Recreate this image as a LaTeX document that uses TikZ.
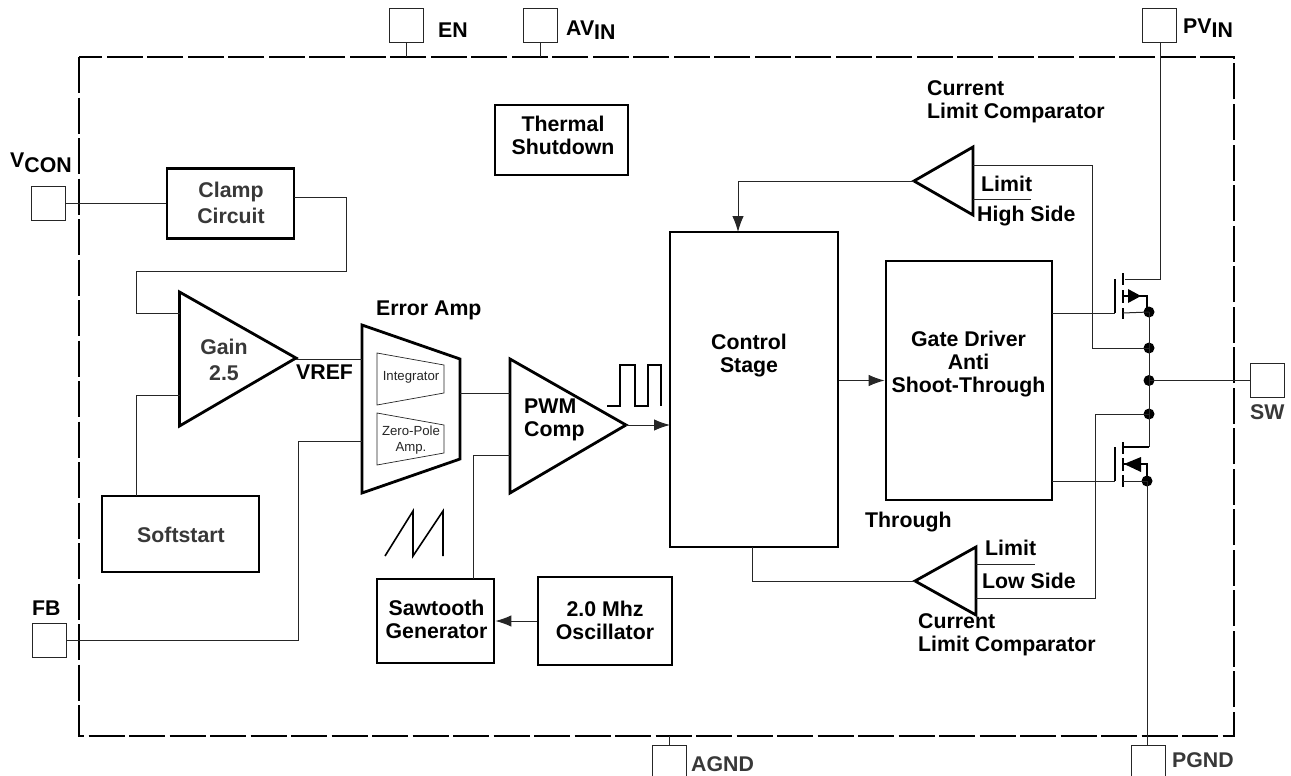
\documentclass[tikz,border=0pt]{standalone}
\usepackage{fontspec}
\setmainfont{Liberation Sans}
\usetikzlibrary{arrows,arrows.meta,positioning,calc}
\tikzstyle{wire}=[line width=1pt,draw=black!85]
\tikzstyle{arr}=[wire,-{Latex[length=16pt,width=11.5pt]}]
\tikzstyle{block}=[rectangle,line width=2.8pt,draw=black,fill=white,inner sep=0pt]
\tikzstyle{pin}=[rectangle,line width=1pt,draw=black!85,fill=white,minimum width=34pt,minimum height=34pt,inner sep=0pt]
\tikzstyle{amp}=[line width=2.8pt,line join=miter,draw=black,fill=white]
\tikzstyle{subamp}=[line width=0.7pt,draw=black!85,fill=white]
\tikzstyle{lbl}=[align=left,inner sep=0pt,font=\fontsize{21.3}{23}\selectfont\bfseries]
\tikzstyle{clbl}=[lbl,align=center]
\tikzstyle{glbl}=[lbl,align=center,text=black!78,font=\fontsize{21.3}{26}\selectfont\bfseries]
\tikzstyle{small}=[align=center,inner sep=0pt,text=black!85,font=\fontsize{13.2}{15.5}\selectfont]
\tikzstyle{dot}=[circle,fill=black,inner sep=0pt,minimum size=11pt]
\newcommand{\lowtxt}[1]{\raisebox{-4.5pt}{#1}}
\begin{document}
\begin{tikzpicture}[x=1pt,y=-1pt]
            \useasboundingbox (0,0) rectangle (1291,776);

            % package outline
            \draw[line width=2.6pt,dash pattern=on 36pt off 4.5pt] (79,57) rectangle (1234,736);

            % pins
            \node[pin] (en) at (406.5,26) {};
            \node[pin] (avin) at (540.5,26) {};
            \node[pin] (pvin) at (1159.5,26) {};
            \node[pin] (vcon) at (48.5,203.5) {};
            \node[pin] (fb) at (49,640) {};
            \node[pin] (sw) at (1267,380.5) {};
            \node[pin] (agnd) at (669,762) {};
            \node[pin] (pgnd) at (1148.5,762) {};

            \node[lbl,anchor=west] (enl) at (438,30) {EN};
            \node[lbl,anchor=west] (avinl) at (566,30) {AV\lowtxt{IN}};
            \node[lbl,anchor=west] (pvinl) at (1183,28) {PV\lowtxt{IN}};
            \node[lbl,anchor=west] (vconl) at (10,163) {V\lowtxt{CON}};
            \node[lbl,anchor=west] (fbl) at (32,608) {FB};
            \node[glbl,anchor=west] (swl) at (1250,412) {SW};
            \node[glbl,anchor=west] (agndl) at (691,764) {AGND};
            \node[glbl,anchor=west] (pgndl) at (1172,760) {PGND};

            % blocks
            \node[block,minimum width=133pt,minimum height=70pt] (thermal) at (561.5,140) {};
            \node[clbl] (thermalt) at (563,135) {Thermal\\Shutdown};
            \node[block,minimum width=127pt,minimum height=70pt] (clamp) at (230.5,203.5) {};
            \node[glbl] (clampt) at (231,203) {Clamp\\Circuit};
            \node[block,minimum width=157pt,minimum height=76pt] (soft) at (180.5,534) {};
            \node[glbl] (softt) at (181,535) {Softstart};
            \node[block,minimum width=117pt,minimum height=84pt] (saw) at (435.5,621) {};
            \node[clbl] (sawt) at (436.5,619.5) {Sawtooth\\Generator};
            \node[block,minimum width=134pt,minimum height=88pt] (osc) at (605,621) {};
            \node[clbl] (osct) at (605,620.5) {2.0 Mhz\\Oscillator};
            \node[block,minimum width=168pt,minimum height=315pt] (ctrl) at (754,389.5) {};
            \node[clbl] (ctrlt) at (749,355.5) {Control\\Stage};
            \node[block,minimum width=166pt,minimum height=239pt] (gate) at (969,380.5) {};
            \node[clbl] (gatet) at (968.5,364.5) {Gate Driver\\Anti\\Shoot-Through};

            % gain, error amp, comparator
            \draw[amp] (179.5,292) -- (296,358) -- (179.5,426) -- cycle;
            \node[glbl] (gain) at (224,360) {Gain\\2.5};
            \draw[amp] (362,325) -- (460,359) -- (460,459) -- (362,493) -- cycle;
            \draw[subamp] (377,353) -- (444,365) -- (444,393) -- (377,405) -- cycle;
            \draw[subamp] (377,413) -- (444,425) -- (444,453) -- (377,465) -- cycle;
            \node[small] (integ) at (411,377) {Integrator};
            \node[small] (zero) at (411,440) {Zero-Pole\\Amp.};
            \node[lbl,anchor=west] (errl) at (376,310) {Error Amp};
            \node[lbl,anchor=west] (vrefl) at (296,372) {VREF};
            \draw[amp] (510,359) -- (626,425) -- (510,493) -- cycle;
            \node[lbl,anchor=west] (pwm) at (524,420) {PWM\\Comp};

            % current limit comparators
            \draw[amp] (914,181) -- (973,147) -- (973,215) -- cycle;
            \draw[amp] (915,581) -- (976,547) -- (976,615) -- cycle;
            \node[lbl,anchor=west] (cl1) at (927,102) {Current\\Limit Comparator};
            \node[lbl,anchor=west] (limh) at (981,184) {Limit};
            \node[lbl,anchor=west] (high) at (977,216) {High Side};
            \node[lbl,anchor=west] (thr) at (865,522) {Through};
            \node[lbl,anchor=west] (liml) at (985,548) {Limit};
            \node[lbl,anchor=west] (low) at (982,581) {Low Side};
            \node[lbl,anchor=west] (cl2) at (918,635) {Current\\Limit Comparator};

            % pulse and sawtooth signs
            \draw[line width=1.6pt] (607,406) -- (620,406) -- (620,365) -- (635,365) -- (635,406) -- (648,406) -- (648,365) -- (661,365) -- (661,406);
            \draw[line width=1.6pt] (385,556) -- (413,511) -- (413,556) -- (443,511) -- (443,556);

            % power stage
            \coordinate (jd) at (1149,312);
            \coordinate (jh) at (1149,348);
            \coordinate (jm) at (1149,380.5);
            \coordinate (jl) at (1149,414);
            \coordinate (js) at (1147,481);
            \node[dot] (d1) at (jd) {};
            \node[dot] (d2) at (jh) {};
            \node[dot] (d3) at (jm) {};
            \node[dot] (d4) at (jl) {};
            \node[dot] (d5) at (js) {};
            \coordinate (hg) at (1115,313);
            \coordinate (lg) at (1115,481);
            \draw[line width=2.4pt] (1115,279) -- (hg);
            \draw[line width=2.4pt] (1115,447) -- (lg);
            \draw[line width=2.4pt] (1123,273) -- (1123,285) (1123,290) -- (1123,303) (1123,308) -- (1123,319);
            \draw[line width=2.4pt] (1123,442) -- (1123,454) (1123,458) -- (1123,471) (1123,475) -- (1123,487);
            \draw[line width=2.4pt] (1123,447) -- (1149,447);
            \fill (1128,289) -- (1141,296) -- (1128,303) -- cycle;
            \fill (1124,464) -- (1141,457) -- (1141,472) -- cycle;
            \draw[line width=1.6pt] (1123,296) -- (1147,296) -- (1147,312);
            \draw[line width=1.6pt] (1123,464) -- (1147,464) -- (js);
            \draw[wire] (1123,313) -- (jd);
            \draw[wire] (1123,481) -- (js);
            \draw[wire] (jd) -- (jh) -- (jm) -- (jl) -- (1149,447);

            % connections
            \coordinate (a1) at (294,197);
            \coordinate (a2) at (346,271);
            \coordinate (a3) at (179.5,313);
            \coordinate (a4) at (136,496);
            \coordinate (a5) at (179.5,395);
            \coordinate (a6) at (362,441);
            \coordinate (a7) at (298,640);
            \draw[wire] (vcon) -- (clamp);
            \draw[wire] (a1) -| (a2) -| (136,313) -- (a3);
            \draw[wire] (a4) |- (a5);
            \draw[wire] (fb) -- (a7) |- (a6);
            \coordinate (gtip) at (296,359);
            \coordinate (ein) at (362,359);
            \draw[wire] (gtip) -- (ein);
            \coordinate (eout) at (460,393);
            \coordinate (pin1) at (510,393);
            \coordinate (pin2) at (510,455);
            \coordinate (sawin) at (473,579);
            \draw[wire] (eout) -- (pin1);
            \draw[wire] (pin2) -| (sawin);
            \coordinate (ptip) at (626,425);
            \coordinate (cin) at (670,425);
            \draw[arr] (ptip) -- (cin);
            \draw[arr] (osc) -- (saw);
            \draw[arr] (ctrl.east |- gate) -- (gate);

            \coordinate (t1) at (914,181);
            \coordinate (t2) at (738,232);
            \draw[arr] (t1) -| (t2);
            \coordinate (t3) at (973,165);
            \coordinate (t4) at (1092,348);
            \draw[wire] (t3) -| (t4) -- (jh);
            \coordinate (t5) at (973,199);
            \coordinate (t6) at (1031,199);
            \draw[wire] (t5) -- (t6);
            \coordinate (b1) at (915,581);
            \coordinate (b2) at (752,547);
            \draw[wire] (b1) -| (b2);
            \coordinate (b3) at (976,564);
            \coordinate (b4) at (1035,564);
            \draw[wire] (b3) -- (b4);
            \coordinate (b5) at (976,598);
            \coordinate (b6) at (1095,414);
            \draw[wire] (b5) -| (b6) -- (jl);

            \coordinate (g1) at (1052,313);
            \coordinate (g2) at (1052,481);
            \draw[wire] (g1) -- (hg);
            \draw[wire] (g2) -- (lg);
            \coordinate (hdr) at (1125,279);
            \coordinate (hc) at (1160,279);
            \draw[wire] (hc |- pvin.south) -- (hc) -- (hdr);
            \draw[wire] (js) -- (pgnd.north -| js);
            \draw[wire] (jm) -- (sw);
            \draw[wire] (en) -- (en |- 0,57);
            \draw[wire] (avin) -- (avin |- 0,57);
            \draw[wire] (agnd) -- (agnd |- 0,736);

        \end{tikzpicture}
\end{document}
